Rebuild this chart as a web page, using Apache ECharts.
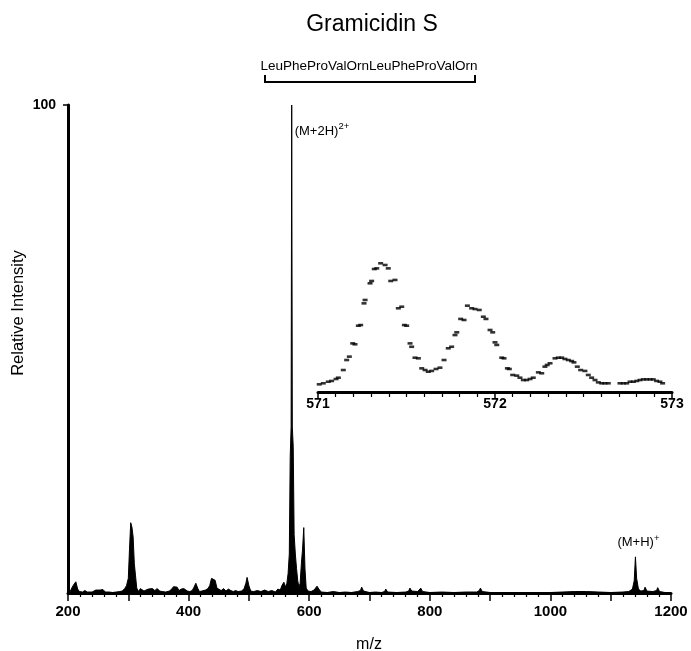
<!DOCTYPE html>
<html><head><meta charset="utf-8">
<script src="https://cdn.jsdelivr.net/npm/echarts@6/dist/echarts.min.js"></script>
<style>html,body{margin:0;padding:0;background:#fff}#c{width:691px;height:651px}</style>
</head><body><div id="c"></div><script>
// ---- data ----
const titleText = 'Gramicidin S';
const sequenceText = 'LeuPheProValOrnLeuPheProValOrn';
const xTickLabels = [200, 400, 600, 800, 1000, 1200];
const yTickLabels = [100];
const insetTickLabels = [571, 572, 573];
// main spectrum: [m/z, relative intensity %]
const spectrum = [
 [200,0],[204,0.4],[207,1.2],[210,1.8],[213,2.3],[216,0.8],[219,0.3],[224,0.2],[228,0.5],[232,0.2],
 [235,0.5],[240,0.2],[246,0.6],[249,0.3],[253,0.6],[258,0.7],[262,0.2],[265,0.3],[268,0.2],[274,0.1],
 [280,0.2],[286,0.3],[290,0.4],[294,0.9],[297,1.5],[300,3],[302,9],[304,14.4],[306,13.5],[308,11.5],
 [310,6],[312,3.5],[314,1],[317,0.3],[320,0.9],[323,0.9],[326,0.4],[329,0.8],[333,0.8],[336,1.0],
 [340,0.9],[344,0.5],[348,0.9],[352,0.4],[356,0.3],[362,0.2],[368,0.4],[372,0.8],[375,1.3],[378,1.6],
 [381,1.2],[384,0.5],[388,0.8],[392,0.9],[395,0.8],[398,0.4],[402,0.3],[406,0.5],[409,1.2],[412,2.0],
 [415,1.0],[418,0.3],[422,0.4],[428,0.6],[432,0.9],[435,1.5],[438,3.0],[441,3.3],[444,2.6],[447,1.0],
 [450,0.8],[454,0.5],[458,0.9],[462,0.4],[466,0.8],[470,0.5],[474,0.3],[478,0.5],[482,0.3],[488,0.4],
 [492,0.9],[495,2.0],[497,3.2],[500,1.5],[503,0.4],[508,0.3],[514,0.5],[520,0.3],[526,0.6],[532,0.3],
 [538,0.5],[544,0.2],[548,0.8],[552,0.6],[555,1.6],[558,2.2],[561,1.2],[563,2.0],[565,4],[567,8],
 [568.5,28],[570,34],[571,100],[572,34],[573.5,30],[575,12],[577,8],[579,5],[581,2.5],[583,1.2],
 [585,2],[587,6],[589,9],[591,13.4],[593,5],[595,1],[598,0.4],[603,0.3],[608,0.6],[611,1.0],
 [613,1.4],[616,0.8],[620,0.2],[630,0.1],[640,0.3],[650,0.1],[660,0.2],[670,0.1],[680,0.3],[685,0.5],
 [687,1.2],[690,0.4],[700,0.1],[710,0.2],[720,0.1],[725,0.3],[727,0.8],[730,0.2],[745,0.1],[760,0.2],
 [765,0.4],[767,1.0],[770,0.4],[780,0.3],[783,0.5],[785,1.0],[788,0.3],[800,0.1],[820,0.2],[840,0.1],
 [860,0.2],[878,0.2],[882,0.5],[884,1.0],[887,0.3],[900,0.1],[950,0.1],[1000,0.1],[1040,0.3],[1060,0.3],
 [1080,0.2],[1100,0.1],[1120,0.2],[1130,0.3],[1136,0.8],[1139,2.5],[1141,7.4],[1143,3.0],[1146,0.8],[1150,0.4],
 [1155,0.5],[1157,1.2],[1160,0.4],[1170,0.3],[1176,0.5],[1178,1.1],[1181,0.3],[1190,0.1],[1200,0]
];
// inset (expanded (M+2H)2+ isotope cluster)
const insetMz = [571.007,571.030,571.058,571.077,571.102,571.115,571.143,571.162,571.177,571.196,
 571.209,571.228,571.241,571.260,571.266,571.294,571.303,571.318,571.332,571.354,
 571.379,571.397,571.411,571.435,571.454,571.473,571.488,571.501,571.520,571.529,
 571.548,571.567,571.586,571.605,571.623,571.642,571.667,571.689,571.712,571.736,
 571.755,571.774,571.784,571.806,571.825,571.844,571.868,571.887,571.911,571.934,
 571.949,571.972,571.987,572.000,572.010,572.038,572.051,572.070,572.081,572.100,
 572.123,572.141,572.160,572.179,572.198,572.216,572.245,572.264,572.282,572.295,
 572.311,572.339,572.358,572.377,572.395,572.414,572.433,572.446,572.465,572.484,
 572.508,572.527,572.546,572.565,572.584,572.603,572.621,572.640,572.706,572.725,
 572.744,572.763,572.782,572.801,572.819,572.838,572.857,572.876,572.894,572.913,
 572.932,572.947];
const insetIntensity = [5.9,6.7,7.9,8.5,10,11,16.9,24.6,27.2,37.4,
 36.7,51,51.5,68.2,70.8,83.6,85.4,94.6,95.1,99,
 97.7,95.1,85.4,86.2,64.4,65.6,51.5,51,37.4,34.8,
 26.4,25.9,18.2,16.9,15.6,16.2,17.7,18.7,24.6,33.6,
 34.8,43.8,45.9,56.2,55.4,66.4,64.4,63.8,63.1,57.9,
 56.2,47.7,45.9,38.2,36.2,26.4,25.9,18.2,17.7,13.1,
 12.6,11,9.2,9.2,10,11,15.1,14.4,19.5,20.8,
 22.1,25.9,26.4,26.4,25.4,24.6,23.8,22.8,19.5,16.9,
 16.2,13.1,11,9.2,7.4,6.7,6.7,6.7,6.7,6.7,
 6.7,7.9,7.9,8.5,9.2,9.7,9.7,9.7,9.7,8.5,
 7.9,6.7];
const peakLabels = [
 {mz: 571, value: 100, main: '(M+2H)', sup: '2+'},
 {mz: 1141, value: 7.4, main: '(M+H)', sup: '+'}
];

// ---- chart ----
const FONT = '"Liberation Sans", Arial, Helvetica, sans-serif';
const chart = echarts.init(document.getElementById('c'), null, {renderer: 'canvas'});
const insetData = insetMz.map((m, i) => [m, insetIntensity[i]]);

chart.setOption({
  animation: false,
  backgroundColor: '#fff',
  grid: [
    {left: 68, right: 20, top: 105, bottom: 58},
    {left: 318, right: 19, top: 262, bottom: 259}
  ],
  xAxis: [
    {gridIndex: 0, type: 'value', min: 200, max: 1200, interval: 100,
     axisLine: {show: true, onZero: false, lineStyle: {color: '#000', width: 3}},
     axisTick: {show: true, length: 8, lineStyle: {color: '#000', width: 1.5}},
     minorTick: {show: true, splitNumber: 5, length: 4, lineStyle: {color: '#000', width: 1.2}},
     splitLine: {show: false},
     axisLabel: {formatter: v => xTickLabels.includes(v) ? String(v) : '', fontFamily: FONT,
       fontWeight: 'bold', fontSize: 15, color: '#000', margin: 11}},
    {gridIndex: 1, type: 'value', min: 571, max: 573, interval: 1,
     axisLine: {show: true, onZero: false, lineStyle: {color: '#000', width: 3}},
     axisTick: {show: true, length: 6, lineStyle: {color: '#000', width: 1.5}},
     minorTick: {show: true, splitNumber: 10, length: 5, lineStyle: {color: '#000', width: 1.2}},
     splitLine: {show: false},
     axisLabel: {formatter: v => insetTickLabels.includes(Math.round(v)) ? String(Math.round(v)) : '',
       fontFamily: FONT, fontWeight: 'bold', fontSize: 14, color: '#000', margin: 5}}
  ],
  yAxis: [
    {gridIndex: 0, type: 'value', min: 0, max: 100, interval: 100,
     axisLine: {show: true, lineStyle: {color: '#000', width: 3}},
     axisTick: {show: true, length: 5, lineStyle: {color: '#000', width: 1.5}, customValues: yTickLabels},
     splitLine: {show: false},
     axisLabel: {formatter: v => yTickLabels.includes(v) ? String(v) : '', customValues: yTickLabels,
       fontFamily: FONT, fontWeight: 'bold', fontSize: 14, color: '#000', margin: 12}},
    {gridIndex: 1, type: 'value', min: 0, max: 100, show: false}
  ],
  series: [
    {type: 'line', xAxisIndex: 0, yAxisIndex: 0, data: spectrum, showSymbol: false, symbol: 'none',
     lineStyle: {color: '#000', width: 1}, areaStyle: {color: '#000', opacity: 1}, z: 3},
    {type: 'scatter', xAxisIndex: 1, yAxisIndex: 1, data: insetData, symbol: 'rect',
     symbolSize: [5, 2.6], itemStyle: {color: '#000'}, z: 4}
  ]
});

// annotations placed from data coordinates
const ctx = document.createElement('canvas').getContext('2d');
function tw(t, size) { ctx.font = size + 'px ' + FONT; return ctx.measureText(t).width; }
function txt(x, y, text, size, align, extra) {
  return Object.assign({type: 'text', x: x, y: y, style: {text: text, fontFamily: FONT, fontSize: size,
    fill: '#000', align: align || 'center', verticalAlign: 'middle',
    textAlign: align || 'center', textVerticalAlign: 'middle'}}, extra || {});
}
const g = [];
g.push(txt(372, 25, titleText, 23));
g.push(txt(369, 66, sequenceText, 13.5));
g.push({type: 'polyline', shape: {points: [[265, 75], [265, 82], [475, 82], [475, 75]]},
  style: {stroke: '#000', lineWidth: 2, fill: null}});
g.push(txt(18, 313, 'Relative Intensity', 16.5, 'center', {rotation: Math.PI / 2}));
g.push(txt(369, 645, 'm/z', 16));

const AF = 13, SF = 9.5;
// (M+2H)2+ : to the right of the top of the peak
{
  const p = chart.convertToPixel({xAxisIndex: 0, yAxisIndex: 0}, [peakLabels[0].mz, peakLabels[0].value]);
  const x0 = p[0] + 3, y0 = p[1] + 26;
  g.push(txt(x0, y0, peakLabels[0].main, AF, 'left'));
  g.push(txt(x0 + tw(peakLabels[0].main, AF), y0 - 5, peakLabels[0].sup, SF, 'left'));
}
// (M+H)+ : centred above the peak
{
  const p = chart.convertToPixel({xAxisIndex: 0, yAxisIndex: 0}, [peakLabels[1].mz, peakLabels[1].value]);
  const w = tw(peakLabels[1].main, AF) + tw(peakLabels[1].sup, SF);
  const x0 = p[0] + 3 - w / 2, y0 = p[1] - 14;
  g.push(txt(x0, y0, peakLabels[1].main, AF, 'left'));
  g.push(txt(x0 + tw(peakLabels[1].main, AF), y0 - 5, peakLabels[1].sup, SF, 'left'));
}
chart.setOption({graphic: {elements: g}});
</script></body></html>
